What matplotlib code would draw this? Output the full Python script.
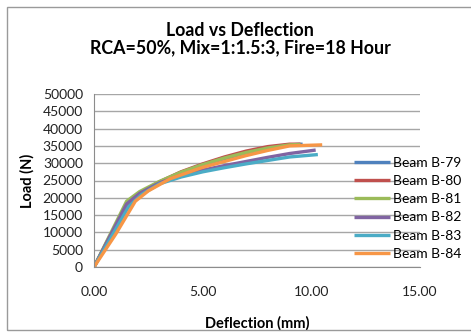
import numpy as np
import matplotlib.pyplot as plt
from matplotlib.patches import Rectangle

# load-deflection readings per beam (deflection in mm, load in N)
beams = ['Beam B-79', 'Beam B-80', 'Beam B-81', 'Beam B-82', 'Beam B-83', 'Beam B-84']
colors = ['#4F81BD', '#C0504D', '#9BBB59', '#8064A2', '#4BACC6', '#F79646']

x79 = [0, 1.6, 2.2, 3, 4, 5, 6, 7, 8, 9, 9.6]
y79 = [0, 18500, 21500, 24500, 27300, 29500, 31300, 32900, 34300, 35300, 35500]
x80 = [0, 1.5, 2.1, 3, 4, 5, 6, 7, 8, 9, 9.5]
y80 = [0, 18000, 21200, 24600, 27500, 29800, 31800, 33500, 34800, 35500, 35500]
x81 = [0, 1.5, 2.1, 3, 4, 5, 6, 7, 8, 9, 9.5]
y81 = [0, 19000, 21800, 24700, 27400, 29600, 31500, 33100, 34400, 35300, 35400]
x82 = [0, 1.5, 2.1, 3, 4, 5, 6, 7, 8, 9, 10.2]
y82 = [0, 18200, 21300, 24300, 26500, 28000, 29300, 30500, 31700, 32800, 33800]
x83 = [0, 1.6, 2.2, 3, 4, 5, 6, 7, 8, 9, 10.3]
y83 = [0, 17500, 21000, 24000, 26000, 27500, 28700, 29800, 30800, 31800, 32500]
x84 = [0, 1.0, 1.9, 2.5, 3.5, 5, 6, 7, 8, 9, 10.5]
y84 = [0, 9500, 19000, 22000, 25500, 28800, 30500, 32200, 33700, 35000, 35300]

xs = [x79, x80, x81, x82, x83, x84]
ys = [y79, y80, y81, y82, y83, y84]

plt.rcParams['font.family'] = ['Lato', 'DejaVu Sans']

fig = plt.figure(figsize=(4.71, 3.36), dpi=100)
ax = fig.add_axes([94 / 471, 1 - 267 / 336, (420 - 94) / 471, (267 - 94) / 336])

# chart area border
fig.patches.append(Rectangle((7 / 471, 6 / 336), 1.0, 1 - 13 / 336,
                             transform=fig.transFigure, fill=False,
                             edgecolor='#9a9a9a', linewidth=1.0))

for xv, yv, c, name in zip(xs, ys, colors, beams):
    ax.plot(xv, yv, color=c, linewidth=2.4, label=name, solid_capstyle='butt')

ax.set_xlim(0, 15)
ax.set_ylim(0, 50000)
ax.set_xticks([0, 5, 10, 15])
ax.set_xticklabels(['0.00', '5.00', '10.00', '15.00'])
ax.set_yticks(np.arange(0, 50001, 5000))
ax.yaxis.grid(True, color='#a6a6a6', linewidth=1.0)
ax.set_axisbelow(True)
ax.tick_params(length=0, labelsize=10, colors='#222222', pad=8)
ax.tick_params(axis='x', pad=14)
for s in ['top', 'right']:
    ax.spines[s].set_visible(False)
for s in ['left', 'bottom']:
    ax.spines[s].set_color('#8c8c8c')

ax.set_xlabel('Deflection (mm)', fontsize=10.5, fontweight='bold', labelpad=13)
ax.set_ylabel('Load (N)', fontsize=10.5, fontweight='bold', labelpad=6)

fig.text(0.51, 1 - 30 / 336, 'Load vs Deflection', ha='center', va='center',
         fontsize=12.8, fontweight='bold')
fig.text(0.51, 1 - 48 / 336, 'RCA=50%, Mix=1:1.5:3, Fire=18 Hour', ha='center',
         va='center', fontsize=12.8, fontweight='bold')

leg = ax.legend(loc='upper left', bbox_to_anchor=(0.78, 0.67), frameon=False,
                fontsize=10, handlelength=2.6, handletextpad=0.2,
                labelspacing=0.45, borderaxespad=0)

fig.savefig('out.png', dpi=100)
